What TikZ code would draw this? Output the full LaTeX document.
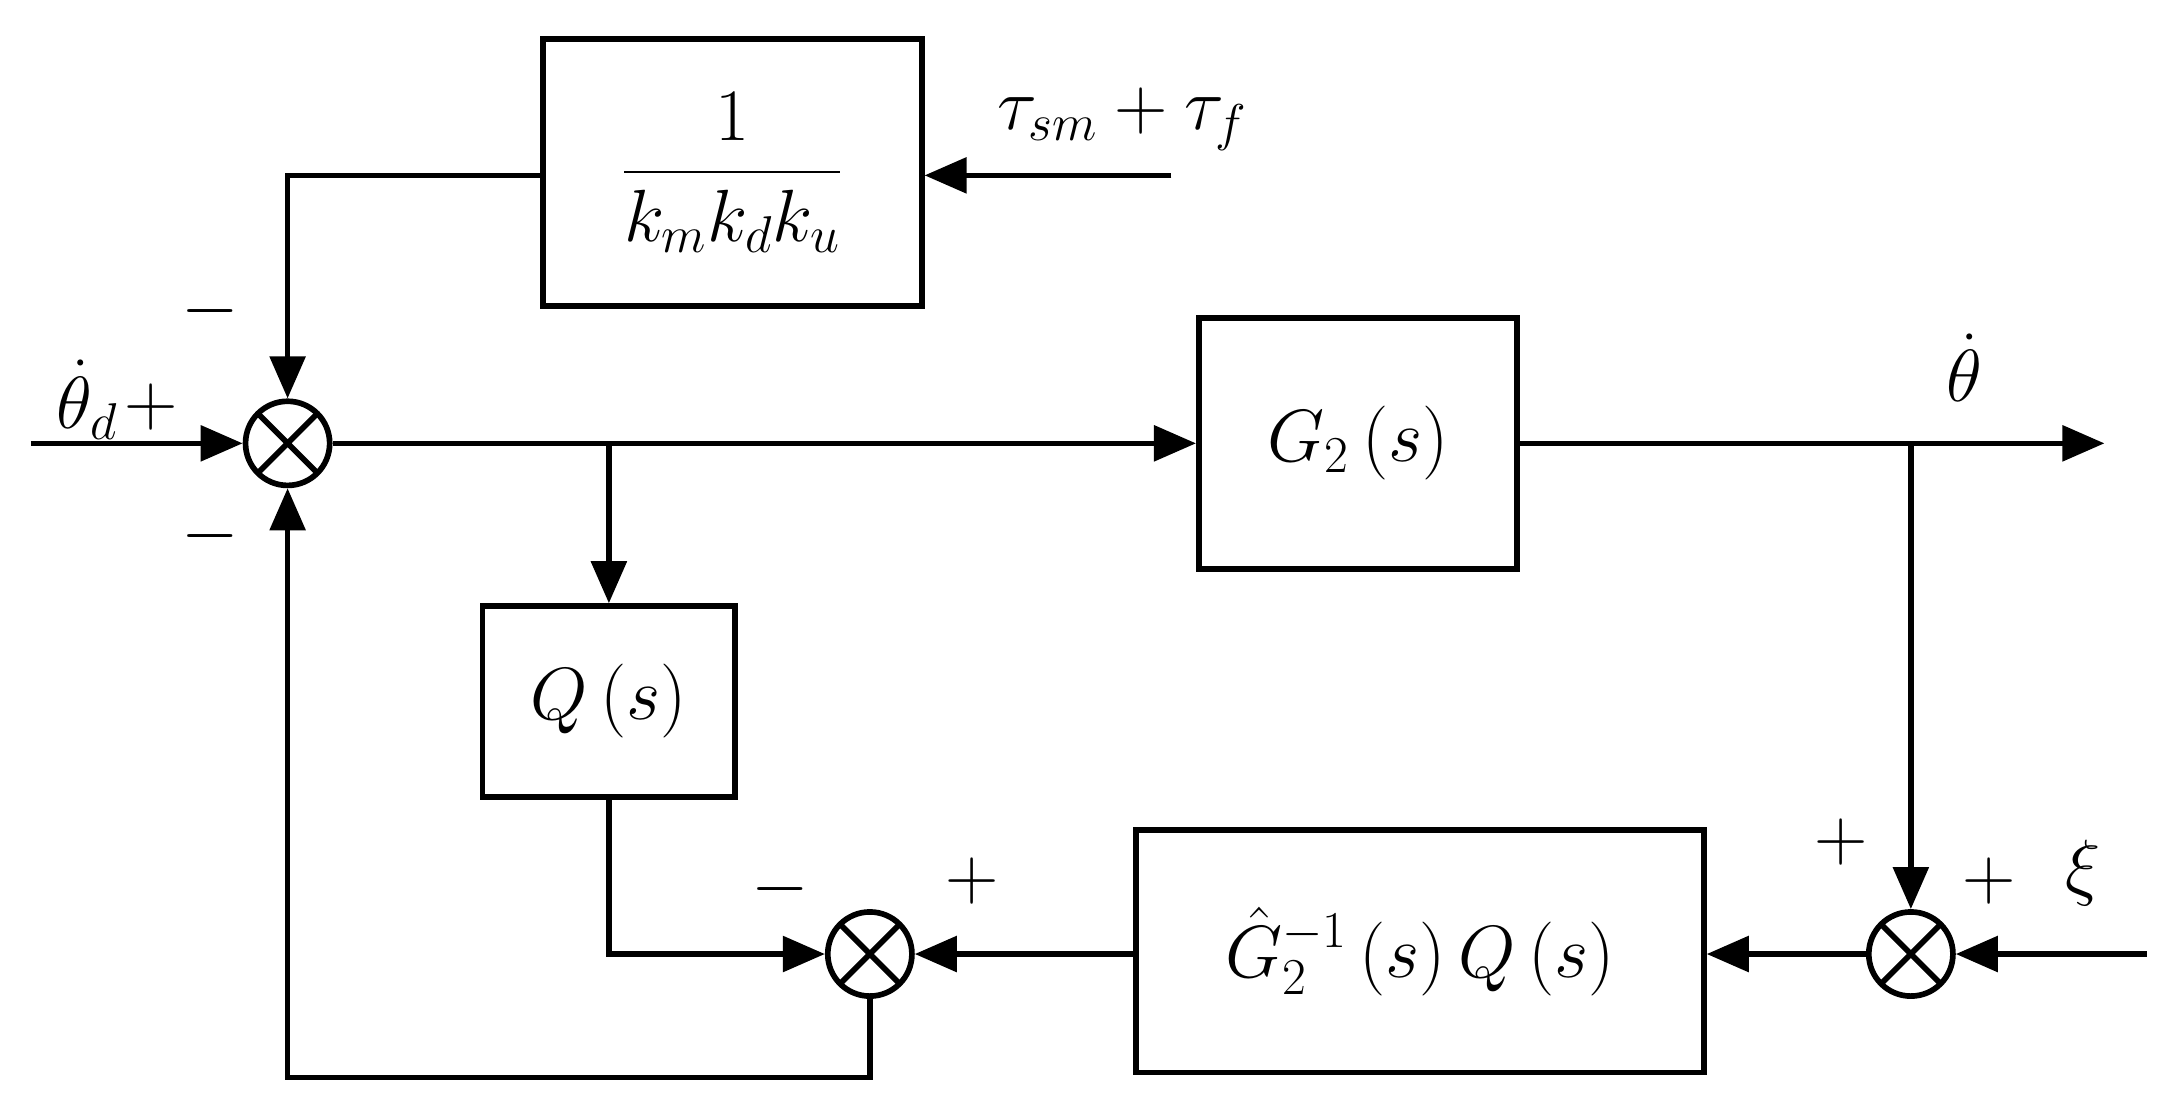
\documentclass[tikz,border=0pt]{standalone}
\usepackage{fix-cm}
\usepackage{amsmath}
\usetikzlibrary{arrows.meta}
\begin{document}
\begin{tikzpicture}[x=0.02cm,y=-0.02cm,
  line width=2.3pt,
  every node/.style={font=\fontsize{30}{36}\selectfont},
  arr/.style={-{Triangle[length=0.6cm,width=0.5cm]}},
  blk/.style={draw,line width=2.3pt,inner sep=0pt},
  sum/.style={draw,circle,line width=2.3pt,minimum size=1.2cm,inner sep=0pt,
    path picture={\draw[line width=2.3pt] (path picture bounding box.north west)--(path picture bounding box.south east)
      (path picture bounding box.north east)--(path picture bounding box.south west);}},
  lab/.style={inner sep=0pt}]
\useasboundingbox (0,0) rectangle (1551,797);
% blocks
\node[blk,minimum width=5.4cm,minimum height=3.8cm] (K) at (522,123) {$\dfrac{1}{k_m k_d k_u}$};
\node[blk,minimum width=4.54cm,minimum height=3.58cm] (G) at (968,316) {$G_2\left(s\right)$};
\node[blk,minimum width=3.6cm,minimum height=2.72cm] (Q) at (434,500) {$Q\left(s\right)$};
\node[blk,minimum width=8.1cm,minimum height=3.46cm] (GQ) at (1012,678) {$\hat{G}_2^{-1}\left(s\right)Q\left(s\right)$};
% sums
\node[sum] (S1) at (205,316) {};
\node[sum] (S2) at (620,680) {};
\node[sum] (S3) at (1362,680) {};
% coordinates
\coordinate (in) at (22,316);
\coordinate (tau) at (835,125);
\coordinate (out) at (1500,316);
\coordinate (xi) at (1530,680);
\coordinate (b1) at (434,316);
\coordinate (b2) at (1362,316);
% connectors
\draw[arr] (in) -- (S1.west);
\draw[arr] (S1.east) -- (G.west);
\draw[arr] (G.east) -- (out);
\draw[arr] (K.west |- 0,125) -| (S1.north);
\draw[arr] (tau) -- (K.east |- tau);
\draw[arr] (b1) -- (Q.north);
\draw[arr] (b2) -- (S3.north);
\draw[arr] (xi) -- (S3.east);
\draw[arr] (S3.west) -- (GQ.east |- S3);
\draw[arr] (GQ.west |- S2) -- (S2.east);
\draw[arr] (Q.south) |- (S2.west);
\draw[arr] (S2.south) -- (620,768) -| (S1.south);
% labels
\node[lab] (l1) at (62,285) {$\dot{\theta}_d$};
\node[lab] (l2) at (108,290) {$+$};
\node[lab] (l3) at (150,222) {$-$};
\node[lab] (l4) at (150,382) {$-$};
\node[lab] (l5) at (800,85) {$\tau_{sm}+\tau_f$};
\node[lab] (l6) at (1400,262) {$\dot{\theta}$};
\node[lab] (l7) at (556,634) {$-$};
\node[lab] (l8) at (693,628) {$+$};
\node[lab] (l9) at (1312,600) {$+$};
\node[lab] (l10) at (1418,628) {$+$};
\node[lab] (l11) at (1485,622) {$\xi$};
\end{tikzpicture}
\end{document}
